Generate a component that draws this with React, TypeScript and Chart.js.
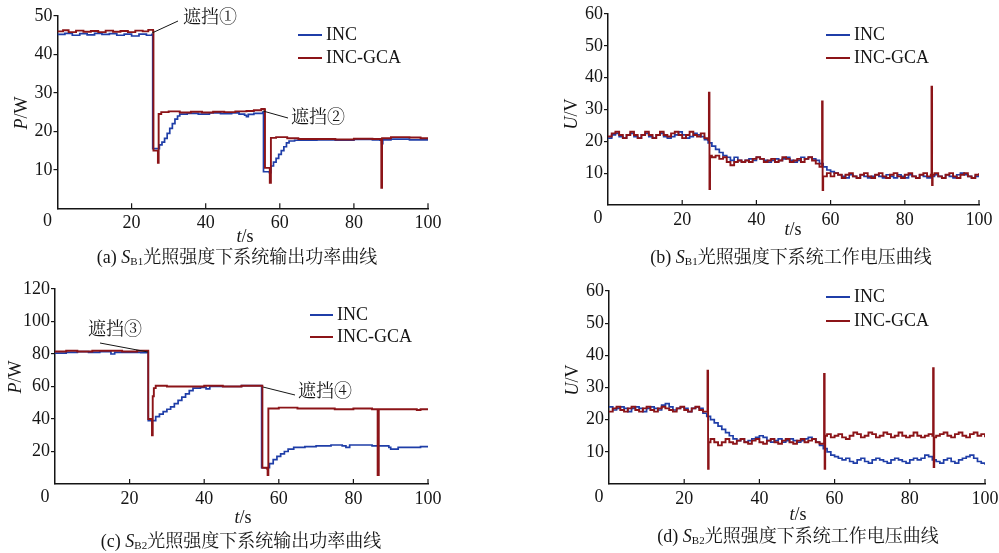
import React, { useEffect, useRef } from "react";
import { Chart, registerables } from "chart.js";
Chart.register(...registerables);

type P = [number, number];

const BLUE = "#1f3ea8";
const RED = "#8c1418";
const INK = "#151515";
const SERIF = '"Liberation Serif", "Times New Roman", serif';
const CJK = '"Liberation Serif", "Noto Serif CJK SC", "Noto Sans CJK SC", serif';

// ---------- (a) S_B1 power, P/W ----------
const aIncP: P[] = [
  [0, 45.2], [2, 45.5], [4, 45.0], [6, 45.4], [8, 45.1], [10, 45.5], [12, 45.2], [14, 45.4], [16, 45.0],
  [18, 45.3], [20, 44.8], [22, 45.3], [24, 45.0], [25.5, 45.2], [25.7, 15.5], [27.2, 15.5], [27.5, 16.5],
  [28.2, 17.2], [28.9, 18.2], [29.6, 19.5], [30.3, 20.8], [31, 22], [31.7, 23.2], [32.4, 24], [33, 24.5],
  [35, 24.7], [38, 24.5], [41, 24.8], [44, 24.6], [47, 24.8], [49, 24.5], [50.5, 24.2], [51, 23.8],
  [51.5, 24.4], [53, 24.7], [55.4, 25], [55.6, 9.5], [57.2, 9.3], [57.6, 11], [58.3, 12], [59, 13],
  [59.7, 14], [60.4, 15], [61.1, 16], [61.8, 17], [62.5, 17.5], [64, 17.7], [70, 17.8], [75, 17.7],
  [80, 17.9], [85, 17.8], [87, 17.7], [87.5, 16.8], [87.8, 17.8], [90, 18], [95, 17.8], [100, 18],
];
const aGcaP: P[] = [
  [0, 46], [1.5, 46.3], [3, 45.8], [5, 46.2], [7, 45.9], [9, 46.1], [11, 45.8], [13, 46.2], [15, 45.9],
  [17, 46.1], [19, 45.8], [21, 46.2], [23, 46], [24.5, 46.4], [25.8, 46], [25.9, 15], [27, 15], [27.1, 11.8],
  [27.3, 24.5], [28, 25], [30, 25.2], [33, 24.9], [36, 25.1], [39, 24.9], [42, 25.1], [45, 25], [48, 25.2],
  [51, 25.3], [53, 25.5], [55, 25.8], [55.9, 25.7], [56, 10.5], [57.1, 10.5], [57.3, 6.6], [57.6, 18.3],
  [59, 18.5], [62, 18.2], [65, 18], [70, 18], [75, 17.9], [80, 18.1], [85, 18], [87.3, 17.8], [87.4, 5.3],
  [87.6, 18.2], [90, 18.5], [95, 18.4], [98, 18.2], [100, 18.3],
];

// ---------- (b) S_B1 voltage, U/V (one value per second, 0..100 s) ----------
const bIncU = [
  21, 22, 22.5, 21.5, 21, 22, 22.5, 21.5, 21, 22,
  22.5, 21.5, 21, 22, 22.5, 21.5, 21, 21.5, 22, 23,
  22, 21, 21.5, 22.5, 22, 21.5, 20.5, 19.5, 18.5, 17.5,
  16.5, 15.5, 15, 14, 15, 14, 13.5, 14, 14.5, 14,
  15, 14.5, 14, 13.5, 14, 14.5, 14, 14.5, 15, 14,
  13.5, 14, 15, 14.5, 15, 14.5, 14, 13, 12, 11,
  10.5, 10, 9.5, 9, 8.5, 9.5, 9, 8.5, 9.5, 9,
  8.5, 9, 9.5, 9, 8.5, 9.5, 9, 8.5, 9.5, 9,
  8.5, 9.5, 9, 8.5, 9.5, 9, 8.5, 9, 9.5, 9,
  8.5, 9.5, 9, 8.5, 9.5, 10, 9.5, 9, 8.5, 9,
  9.5,
];
const bGcaU = [
  21.5, 22.5, 23, 22, 21, 22, 23, 22, 21, 22,
  23, 22, 21, 22, 23, 22, 21.5, 22.5, 23, 22,
  21, 22, 23, 22, 21.5, 22.5, 21, 20.5, 15, 15.5,
  14.5, 15, 13.5, 12.5, 13.5, 14, 13.5, 14, 13.5, 14.5,
  15, 14.5, 13.5, 14, 14.5, 13.5, 14, 15, 14.5, 13.5,
  14, 14.5, 13.5, 14.5, 15, 14, 13, 12, 9, 10,
  9, 10, 9.5, 8.5, 9.5, 10, 9, 8.5, 9.5, 10,
  9, 8.5, 9.5, 10, 9, 8.5, 9.5, 10, 9, 8.5,
  9.5, 10, 9, 8.5, 9.5, 10, 9, 9.5, 10, 9,
  8.5, 9.5, 10, 9, 8.5, 9.5, 10, 9, 8.5, 9.5,
  10,
];
const bGcaSpikes: P[] = [
  [27.2, 35.3], [27.35, 5], [27.5, 15.5],
  [57.7, 32.5], [57.85, 4.7],
  [87.2, 37.2], [87.35, 6.3], [87.5, 9.5],
];

// ---------- (c) S_B2 power, P/W ----------
const cIncP: P[] = [
  [0, 80.5], [3, 81], [6, 81.5], [9, 81], [12, 81.5], [15, 80], [16, 81], [20, 81], [23, 80.8], [24.8, 81],
  [25, 39], [26.5, 39], [27, 41.5], [28, 43], [29, 44.5], [30, 46], [31, 47.5], [32, 49.5], [33, 51.5],
  [34, 53.5], [35, 55.5], [36, 57.5], [37, 59], [39, 59.5], [40.5, 58.5], [41.5, 60], [45, 60], [50, 60.5],
  [55.3, 60.5], [55.4, 10], [57, 10], [57.5, 12.5], [58.5, 15], [59.5, 17], [60.5, 18.5], [61.5, 20],
  [62.5, 21.5], [64, 22.5], [67, 23], [70, 23.5], [74, 24], [77, 23.5], [78, 22.5], [79, 24], [82, 24],
  [85, 23.5], [88, 23.5], [89.5, 22.5], [90, 21.5], [92, 22.5], [96, 22.5], [98, 23], [100, 23.5],
];
const cGcaP: P[] = [
  [0, 81.5], [3, 82], [6, 81.5], [10, 82], [14, 82], [18, 81.5], [22, 82], [24.8, 82], [25, 40], [25.8, 40],
  [26, 30], [26.2, 54], [26.5, 59], [27, 60.5], [30, 60], [35, 60], [40, 60.5], [45, 60], [50, 60.5],
  [55.5, 60.5], [55.6, 10], [56.8, 9.5], [57, 5.5], [57.2, 46.5], [60, 47], [65, 46.5], [70, 46.5],
  [75, 46], [80, 46.5], [85, 46], [86.3, 46], [86.5, 5.5], [86.8, 46], [90, 46], [95, 46], [97, 45.5],
  [98, 46], [100, 46],
];

// ---------- (d) S_B2 voltage, U/V (one value per second, 0..100 s) ----------
const dIncU = [
  24, 23, 23.5, 24, 23.5, 22.5, 23.5, 24, 23.5, 22.5,
  23.5, 24, 23.5, 23, 24.5, 25, 24, 23, 23.5, 24,
  23.5, 22.5, 23.5, 24, 23.5, 22, 21, 20, 19, 18,
  17, 16, 15, 14, 13.5, 14, 13, 13.5, 14, 14.5,
  15, 14.5, 13.5, 13, 13.5, 14, 13, 13.5, 14, 13.5,
  13, 13.5, 14, 14.5, 14, 13, 12, 11, 10, 9,
  8.5, 8, 7.5, 8, 7, 6.5, 7.5, 8, 7, 6.5,
  7.5, 8, 7.5, 7, 6.5, 7.5, 8, 7.5, 7, 6.5,
  7.5, 8, 7.5, 8, 9, 8.5, 7.5, 7, 6.5, 7.5,
  8, 7, 6.5, 7.5, 8, 8.5, 9, 8, 7, 6.5,
  6,
];
const dGcaU = [
  22.5, 23.5, 24, 23, 22.5, 23.5, 24, 23, 22.5, 23.5,
  24, 23, 22.5, 23.5, 24, 23.5, 23, 22.5, 23.5, 24,
  23, 22.5, 23.5, 24, 23, 22.5, 22.5, 14, 13, 12,
  13, 14, 13, 12.5, 13.5, 14, 13, 12.5, 13.5, 14,
  13, 12.5, 13.5, 14, 13, 12.5, 13.5, 14, 13, 12.5,
  13.5, 14, 13, 13.5, 14, 13, 12.5, 12.5, 15.5, 14.5,
  15, 15.5, 14.5, 14, 15, 16, 15.5, 14.5, 15, 16,
  15.5, 14.5, 15, 16, 15.5, 14.5, 15, 16, 15, 14.5,
  15, 16, 15, 14.5, 15, 15.5, 15, 15, 15.5, 16,
  15, 14.5, 15.5, 16, 15, 14.5, 15.5, 16, 15, 15.5,
  14.5,
];
const dGcaSpikes: P[] = [
  [26.2, 35.2], [26.35, 4.7], [26.5, 13],
  [57.2, 34.2], [57.35, 4.7], [57.5, 15],
  [86.2, 36], [86.35, 5.3], [86.5, 14.5],
];

const xTicks = [0, 20, 40, 60, 80, 100];
const seriesNames = ["INC", "INC-GCA"];

function perSecond(vals: number[], extra: P[] = []): P[] {
  const pts: P[] = vals.map((v, i) => [i, v] as P);
  return [...pts, ...extra].sort((a, b) => a[0] - b[0]);
}

type Run = { t: string; font: string; dy?: number };

function drawRuns(ctx: CanvasRenderingContext2D, runs: Run[], x: number, y: number, align: "left" | "center") {
  let w = 0;
  for (const r of runs) {
    ctx.font = r.font;
    w += ctx.measureText(r.t).width;
  }
  let cx = align === "center" ? x - w / 2 : x;
  ctx.textAlign = "left";
  ctx.textBaseline = "middle";
  for (const r of runs) {
    ctx.font = r.font;
    ctx.fillText(r.t, cx, y + (r.dy || 0));
    cx += ctx.measureText(r.t).width;
  }
}

type Note = { text: string; tx: number; ty: number; l: [number, number, number, number] };

type Spec = {
  id: string;
  ox: number; oy: number; w: number; h: number;
  ymax: number; ystep: number; yW: number;
  pad: { top: number; right: number; bottom: number; left: number };
  inc: P[]; gca: P[];
  legend: { x1: number; x2: number; tx: number; y1: number; y2: number };
  yTitle: { x: number; y: number; v: string; u: string };
  xTitle: { x: number; y: number };
  caption: { x: number; y: number; tag: string; sub: string; text: string };
  notes: Note[];
};

const F = (size: number, style = "") => `${style} ${size}px ${SERIF}`.trim();
const FC = (size: number) => `${size}px ${CJK}`;

function decor(spec: Spec) {
  return {
    id: "decor_" + spec.id,
    afterDraw(chart: any) {
      const ctx: CanvasRenderingContext2D = chart.ctx;
      const xs = chart.scales.x;
      const area = chart.chartArea;
      ctx.save();
      // inward x tick marks
      ctx.strokeStyle = INK;
      ctx.lineWidth = 1.2;
      for (const v of xTicks) {
        if (v === 0) continue;
        const px = xs.getPixelForValue(v);
        ctx.beginPath();
        ctx.moveTo(px, area.bottom);
        ctx.lineTo(px, area.bottom - 5);
        ctx.stroke();
      }
      ctx.fillStyle = INK;
      // shared origin "0"
      drawRuns(ctx, [{ t: "0", font: F(18) }], area.left - 10, area.bottom + 13, "center");

      ctx.translate(-spec.ox, -spec.oy);
      // legend
      const lg = spec.legend;
      ctx.lineWidth = 2;
      ctx.strokeStyle = BLUE;
      ctx.beginPath(); ctx.moveTo(lg.x1, lg.y1); ctx.lineTo(lg.x2, lg.y1); ctx.stroke();
      ctx.strokeStyle = RED;
      ctx.beginPath(); ctx.moveTo(lg.x1, lg.y2); ctx.lineTo(lg.x2, lg.y2); ctx.stroke();
      ctx.fillStyle = INK;
      drawRuns(ctx, [{ t: seriesNames[0], font: F(18) }], lg.tx, lg.y1, "left");
      drawRuns(ctx, [{ t: seriesNames[1], font: F(18) }], lg.tx, lg.y2, "left");

      // annotations
      for (const n of spec.notes) {
        ctx.strokeStyle = INK;
        ctx.lineWidth = 1;
        ctx.beginPath(); ctx.moveTo(n.l[0], n.l[1]); ctx.lineTo(n.l[2], n.l[3]); ctx.stroke();
        drawRuns(ctx, [{ t: n.text, font: FC(18) }], n.tx, n.ty, "left");
      }

      // axis titles
      ctx.save();
      ctx.translate(spec.yTitle.x, spec.yTitle.y);
      ctx.rotate(-Math.PI / 2);
      drawRuns(ctx, [{ t: spec.yTitle.v, font: F(18, "italic") }, { t: spec.yTitle.u, font: F(18) }], 0, 0, "center");
      ctx.restore();
      drawRuns(ctx, [{ t: "t", font: F(18, "italic") }, { t: "/s", font: F(18) }], spec.xTitle.x, spec.xTitle.y, "center");

      // caption
      const c = spec.caption;
      drawRuns(ctx, [
        { t: c.tag + " ", font: F(18) },
        { t: "S", font: F(18, "italic") },
        { t: c.sub, font: F(11), dy: 4 },
        { t: c.text, font: FC(18) },
      ], c.x, c.y, "center");
      ctx.restore();
    },
  };
}

function makeConfig(spec: Spec): any {
  const tickFont = { family: SERIF, size: 18 };
  return {
    type: "line",
    data: {
      datasets: [
        {
          label: seriesNames[0],
          data: spec.inc.map(([x, y]) => ({ x, y })),
          borderColor: BLUE, borderWidth: 1.7, pointRadius: 0, stepped: "before", fill: false, order: 2,
        },
        {
          label: seriesNames[1],
          data: spec.gca.map(([x, y]) => ({ x, y })),
          borderColor: RED, borderWidth: 1.9, pointRadius: 0, stepped: "before", fill: false, order: 1,
        },
      ],
    },
    options: {
      animation: false,
      responsive: false,
      maintainAspectRatio: false,
      events: [],
      layout: { padding: spec.pad },
      plugins: { legend: { display: false }, tooltip: { enabled: false } },
      scales: {
        x: {
          type: "linear", min: 0, max: 100,
          afterBuildTicks: (s: any) => { s.ticks = xTicks.map((v) => ({ value: v })); },
          ticks: {
            callback: (v: number) => (v === 0 ? "" : String(v)),
            font: tickFont, color: INK, padding: 4, maxRotation: 0, autoSkip: false,
          },
          grid: { display: false, drawTicks: false },
          border: { display: true, color: INK, width: 1.5 },
          afterFit: (s: any) => { s.height = 30; s.paddingLeft = 0; s.paddingRight = 0; },
        },
        y: {
          type: "linear", min: 0, max: spec.ymax,
          ticks: {
            stepSize: spec.ystep,
            callback: (v: number) => (v === 0 ? "" : String(v)),
            font: tickFont, color: INK, padding: 1,
          },
          grid: {
            display: true, drawOnChartArea: false, drawTicks: true, tickLength: 4, lineWidth: 1.2,
            color: (c: any) => (c.tick && c.tick.value === 0 ? "rgba(0,0,0,0)" : INK),
          },
          border: { display: true, color: INK, width: 1.5 },
          afterFit: (s: any) => { s.width = spec.yW; },
        },
      },
    },
    plugins: [decor(spec)],
  };
}

const specs: Spec[] = [
  {
    id: "a", ox: 0, oy: 0, w: 499, h: 276, ymax: 50, ystep: 10, yW: 57.5,
    pad: { top: 16, right: 71, bottom: 37.7, left: 0 },
    inc: aIncP, gca: aGcaP,
    legend: { x1: 298, x2: 322, tx: 326, y1: 35, y2: 58 },
    yTitle: { x: 22, y: 113, v: "P", u: "/W" },
    xTitle: { x: 245, y: 237 },
    caption: { x: 237, y: 258, tag: "(a)", sub: "B1", text: "光照强度下系统输出功率曲线" },
    notes: [
      { text: "遮挡①", tx: 183, ty: 18, l: [152, 33, 178, 21] },
      { text: "遮挡②", tx: 291, ty: 118, l: [263, 111, 288, 118] },
    ],
  },
  {
    id: "b", ox: 499, oy: 0, w: 500, h: 276, ymax: 60, ystep: 10, yW: 109,
    pad: { top: 14, right: 20, bottom: 41, left: 0 },
    inc: perSecond(bIncU), gca: perSecond(bGcaU, bGcaSpikes),
    legend: { x1: 826, x2: 850, tx: 854, y1: 35, y2: 58 },
    yTitle: { x: 572, y: 114, v: "U", u: "/V" },
    xTitle: { x: 793, y: 230 },
    caption: { x: 791, y: 258, tag: "(b)", sub: "B1", text: "光照强度下系统工作电压曲线" },
    notes: [],
  },
  {
    id: "c", ox: 0, oy: 276, w: 499, h: 277, ymax: 120, ystep: 20, yW: 55,
    pad: { top: 13, right: 71, bottom: 39, left: 0 },
    inc: cIncP, gca: cGcaP,
    legend: { x1: 310, x2: 333, tx: 337, y1: 315, y2: 337 },
    yTitle: { x: 16, y: 377, v: "P", u: "/W" },
    xTitle: { x: 243, y: 518 },
    caption: { x: 241, y: 542, tag: "(c)", sub: "B2", text: "光照强度下系统输出功率曲线" },
    notes: [
      { text: "遮挡③", tx: 88, ty: 330, l: [100, 343, 148, 352] },
      { text: "遮挡④", tx: 298, ty: 392, l: [263, 387, 295, 395] },
    ],
  },
  {
    id: "d", ox: 499, oy: 276, w: 500, h: 277, ymax: 60, ystep: 10, yW: 110,
    pad: { top: 15, right: 14, bottom: 39, left: 0 },
    inc: perSecond(dIncU), gca: perSecond(dGcaU, dGcaSpikes),
    legend: { x1: 826, x2: 850, tx: 854, y1: 297, y2: 321 },
    yTitle: { x: 573, y: 380, v: "U", u: "/V" },
    xTitle: { x: 798, y: 515 },
    caption: { x: 798, y: 537, tag: "(d)", sub: "B2", text: "光照强度下系统工作电压曲线" },
    notes: [],
  },
];

function Panel({ spec }: { spec: Spec }) {
  const ref = useRef<HTMLCanvasElement>(null);
  useEffect(() => {
    const chart = new Chart(ref.current as HTMLCanvasElement, makeConfig(spec));
    return () => chart.destroy();
  }, [spec]);
  return (
    <canvas
      ref={ref}
      width={spec.w}
      height={spec.h}
      style={{ position: "absolute", left: spec.ox, top: spec.oy, width: spec.w, height: spec.h }}
    />
  );
}

export default function App() {
  return (
    <div style={{ position: "absolute", left: 0, top: 0, width: 999, height: 553, background: "#ffffff", overflow: "hidden" }}>
      {specs.map((s) => (
        <Panel key={s.id} spec={s} />
      ))}
    </div>
  );
}
